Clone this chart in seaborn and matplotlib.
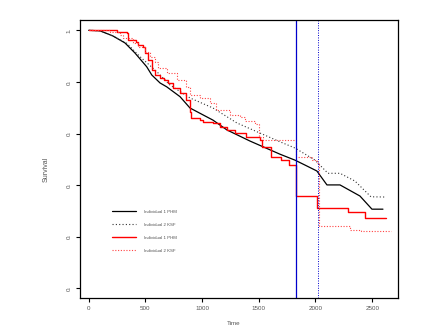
import numpy as np
import pandas as pd
import matplotlib
matplotlib.use("Agg")
import matplotlib.pyplot as plt
import seaborn as sns

sns.set_style("white")
plt.rcParams['font.family'] = ['Liberation Sans', 'DejaVu Sans']

# Black solid: Individual 1 PHM
t_b1 = [0, 100, 214, 320, 408, 511, 556, 629, 688, 805, 893, 1096, 1219, 1422, 1687, 1819, 1907, 2012, 2101, 2216, 2392, 2498, 2595]
s_b1 = [1.0, 0.998, 0.978, 0.951, 0.912, 0.859, 0.827, 0.796, 0.781, 0.743, 0.699, 0.652, 0.614, 0.571, 0.520, 0.497, 0.478, 0.455, 0.401, 0.401, 0.358, 0.307, 0.307]

# Black dotted: Individual 2 KSF
t_b2 = [0, 100, 214, 335, 452, 600, 717, 893, 1096, 1307, 1510, 1687, 1819, 1996, 2110, 2216, 2348, 2489, 2622]
s_b2 = [1.0, 0.998, 0.978, 0.950, 0.898, 0.840, 0.788, 0.738, 0.699, 0.641, 0.602, 0.568, 0.544, 0.497, 0.446, 0.446, 0.416, 0.355, 0.354]

# Red solid: Individual 1 PHM
t_r1 = [0, 250, 340, 350, 420, 435, 480, 495, 525, 555, 585, 630, 660, 700, 745, 805, 860, 890, 905, 985, 1010, 1100, 1160, 1220, 1290, 1390, 1510, 1530, 1610, 1695, 1770, 1826, 2010, 2285, 2440, 2620]
s_r1 = [1.0, 0.995, 0.988, 0.962, 0.956, 0.943, 0.936, 0.911, 0.886, 0.847, 0.827, 0.814, 0.807, 0.795, 0.775, 0.756, 0.729, 0.684, 0.659, 0.652, 0.646, 0.640, 0.626, 0.614, 0.601, 0.588, 0.575, 0.546, 0.510, 0.497, 0.478, 0.358, 0.311, 0.296, 0.271, 0.271]

# Red dotted: Individual 2 KSF
t_r2 = [0, 185, 275, 300, 390, 435, 495, 540, 585, 615, 690, 775, 860, 890, 980, 1070, 1125, 1245, 1330, 1380, 1465, 1505, 1540, 1826, 1970, 2015, 2030, 2245, 2300, 2400, 2665]
s_r2 = [1.0, 0.995, 0.982, 0.969, 0.950, 0.936, 0.917, 0.898, 0.878, 0.853, 0.833, 0.807, 0.781, 0.749, 0.736, 0.717, 0.691, 0.672, 0.665, 0.648, 0.637, 0.588, 0.575, 0.509, 0.497, 0.484, 0.241, 0.241, 0.228, 0.224, 0.224]

vlines = [1826, 2020]
vstyles = ['-', ':']

x_ticks = [0, 500, 1000, 1500, 2000, 2500]
y_ticks = [0.0, 0.2, 0.4, 0.6, 0.8, 1.0]
y_ticklabels = ['0.', '0.', '0.', '0.', '0.', '1.']
legend_labels = ['Individual 1 PHM', 'Individual 2 KSF', 'Individual 1 PHM', 'Individual 2 KSF']

fig = plt.figure(figsize=(4.36, 3.29), dpi=100)
ax = fig.add_axes([80/436, 1 - 297.7/329, 317.7/436, 277.7/329])

df_b1 = pd.DataFrame({'t': t_b1, 's': s_b1})
df_b2 = pd.DataFrame({'t': t_b2, 's': s_b2})
df_r1 = pd.DataFrame({'t': t_r1, 's': s_r1})
df_r2 = pd.DataFrame({'t': t_r2, 's': s_r2})

sns.lineplot(data=df_b1, x='t', y='s', ax=ax, color='black', lw=0.9, label=legend_labels[0], sort=False)
sns.lineplot(data=df_b2, x='t', y='s', ax=ax, color='#333333', lw=0.8, ls=(0, (1, 2)), label=legend_labels[1], sort=False)
sns.lineplot(data=df_r1, x='t', y='s', ax=ax, color='#ff0000', lw=1.0, drawstyle='steps-post', label=legend_labels[2], sort=False)
sns.lineplot(data=df_r2, x='t', y='s', ax=ax, color='#ff4444', lw=0.8, ls=(0, (1, 1.5)), drawstyle='steps-post', label=legend_labels[3], sort=False)

for v, st in zip(vlines, vstyles):
    ax.axvline(v, color='#0000cc', lw=0.9 if st == '-' else 0.7, ls=st if st == '-' else (0, (1, 1.5)))

ax.set_xlim(-77, 2725)
ax.set_ylim(-0.036, 1.04)
ax.set_xticks(x_ticks)
ax.set_xticklabels([str(v) for v in x_ticks])
ax.set_yticks(y_ticks)
ax.set_yticklabels(y_ticklabels, rotation=90, va='center')
ax.tick_params(axis='both', which='both', length=3, width=0.8, color='black',
               labelsize=4.5, labelcolor='#555555', pad=3, direction='out',
               bottom=True, left=True)
for sp in ax.spines.values():
    sp.set_color('black')
    sp.set_linewidth(0.9)

ax.set_xlabel('Time', fontsize=4.5, color='#555555')
ax.set_ylabel('Survival', fontsize=5, color='#555555')
ax.xaxis.set_label_coords(0.485, -0.084)
ax.yaxis.set_label_coords(-0.094, 0.463)

leg = ax.legend(loc='upper left', bbox_to_anchor=(0.095, 0.323), frameon=False,
                fontsize=3.2, handlelength=5.4, handletextpad=1.8, labelspacing=2.0,
                borderaxespad=0)
for txt in leg.get_texts():
    txt.set_color('#555555')

fig.savefig('out.png', dpi=100)
